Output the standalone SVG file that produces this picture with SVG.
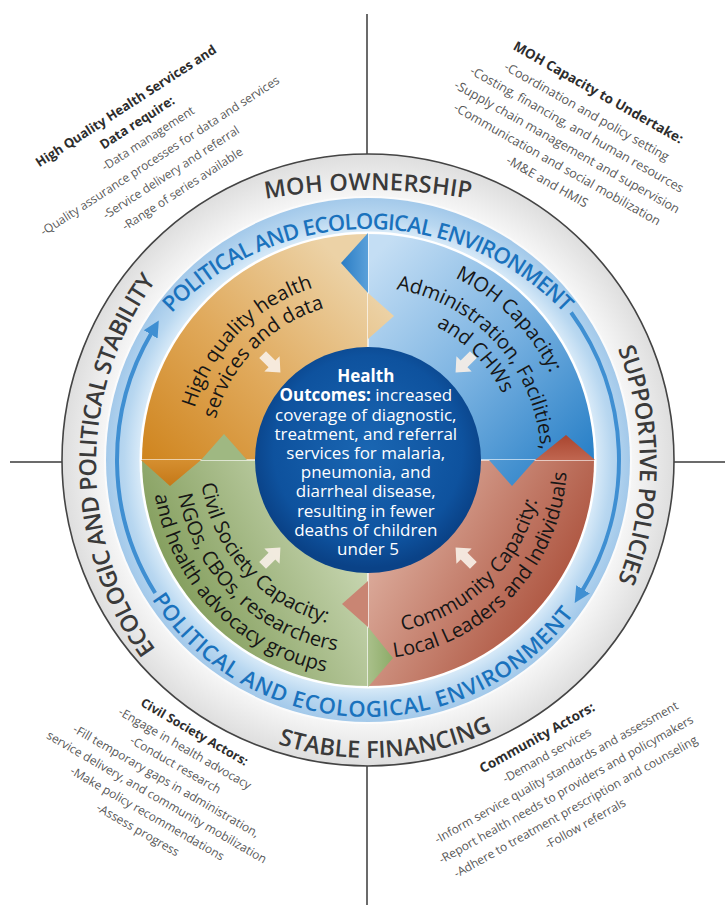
<svg xmlns="http://www.w3.org/2000/svg" width="725" height="905" viewBox="0 0 725 905">
<style>
text{font-family:"Open Sans","Noto Sans","DejaVu Sans",sans-serif}
.ring{font-weight:600;font-size:23.5px;fill:#3a3a3a}
.band{font-weight:600;font-size:22px;fill:#1a72bd}
.quad{font-size:20px;fill:#161616}
.ctr{font-size:17px;fill:#ffffff}
.b{font-weight:700}
.blk{font-size:12px;fill:#585858}
.t{font-weight:700;fill:#2d2d2d}
.xline{stroke:#3a3a3a;stroke-width:1.5;fill:none}
.sep{stroke:#ffffff;stroke-width:1.6;fill:none;opacity:0.8}
.warrow{fill:#f7efe6;opacity:0.92}
.barc{fill:none;stroke:#3f8fd2;stroke-width:4}
</style>
<defs>
<radialGradient id="grayG" gradientUnits="userSpaceOnUse" cx="368" cy="460" r="306">
<stop offset="0.86" stop-color="#f6f6f6"/><stop offset="1" stop-color="#dedede"/></radialGradient>
<radialGradient id="bandG" gradientUnits="userSpaceOnUse" cx="368" cy="460" r="262">
<stop offset="0.87" stop-color="#d8eaf8"/><stop offset="0.93" stop-color="#b8d7f0"/><stop offset="1" stop-color="#a3c9ea"/></radialGradient>
<linearGradient id="orG" gradientUnits="userSpaceOnUse" x1="150" y1="470" x2="350" y2="270">
<stop offset="0" stop-color="#cf841d"/><stop offset="0.5" stop-color="#e0a95b"/><stop offset="1" stop-color="#ecd2a6"/></linearGradient>
<linearGradient id="blG" gradientUnits="userSpaceOnUse" x1="380" y1="250" x2="590" y2="450">
<stop offset="0" stop-color="#c4def4"/><stop offset="0.5" stop-color="#7db4e2"/><stop offset="1" stop-color="#2c82c8"/></linearGradient>
<linearGradient id="rdG" gradientUnits="userSpaceOnUse" x1="390" y1="530" x2="585" y2="640">
<stop offset="0" stop-color="#dbaa9a"/><stop offset="1" stop-color="#a3412b"/></linearGradient>
<linearGradient id="grG" gradientUnits="userSpaceOnUse" x1="340" y1="500" x2="150" y2="600">
<stop offset="0" stop-color="#cad8b4"/><stop offset="1" stop-color="#7a9651"/></linearGradient>
<linearGradient id="tabB" gradientUnits="userSpaceOnUse" x1="341" y1="263" x2="368" y2="263">
<stop offset="0" stop-color="#2b7dc4"/><stop offset="1" stop-color="#5aa0da"/></linearGradient>
<linearGradient id="tabR" gradientUnits="userSpaceOnUse" x1="566" y1="435" x2="566" y2="460">
<stop offset="0" stop-color="#a9452f"/><stop offset="1" stop-color="#c06650"/></linearGradient>
<linearGradient id="tabG" gradientUnits="userSpaceOnUse" x1="393" y1="658" x2="368" y2="658">
<stop offset="0" stop-color="#8dab68"/><stop offset="1" stop-color="#a9c08a"/></linearGradient>
<linearGradient id="tabO" gradientUnits="userSpaceOnUse" x1="170" y1="486" x2="170" y2="460">
<stop offset="0" stop-color="#c57818"/><stop offset="1" stop-color="#d58f30"/></linearGradient>
<radialGradient id="ctrG" gradientUnits="userSpaceOnUse" cx="368" cy="450" r="118">
<stop offset="0" stop-color="#1a66b2"/><stop offset="0.8" stop-color="#0e529e"/><stop offset="1" stop-color="#0a4287"/></radialGradient>
<path id="wa" d="M-10,-4 L1,-4 L1,-9 L11,0 L1,9 L1,4 L-10,4 Z"/>
<marker id="bh" markerUnits="userSpaceOnUse" markerWidth="18" markerHeight="18" refX="2" refY="9" orient="auto">
<path d="M0,1 L16,9 L0,17 Z" fill="#3f8fd2"/></marker>
<path id="tpTop" d="M133.3,364.5 A271,271 0 0 1 602.7,364.5"/>
<path id="tpBot" d="M141.1,580.7 A257,257 0 0 0 585.9,596.2"/>
<path id="tpMOH" d="M162.8,226.2 A600,600 0 0 1 573.2,226.2"/>
<path id="tpStable" d="M191,699.7 A298,298 0 0 0 573.3,676"/>
<path id="tpEco" d="M188,687 A314,314 0 0 1 188,243"/>
<path id="tpSupp" d="M548,243 A314,314 0 0 1 548,687"/>
<path id="tpO1" d="M193.6,508.4 A181,181 0 0 1 413.3,284.8"/>
<path id="tpO2" d="M215.8,502.2 A158,158 0 0 1 407.6,307"/>
<path id="tpB1" d="M315.7,264.9 A202,202 0 0 1 563.1,512.3"/>
<path id="tpB2" d="M332,290.8 A173,173 0 0 1 532.5,513.5"/>
<path id="tpB3" d="M330.4,314.8 A150,150 0 0 1 512.5,500.1"/>
<path id="tpR1" d="M320,627.3 A174,174 0 0 0 536.8,417.9"/>
<path id="tpR2" d="M323.2,653.9 A199,199 0 0 0 558.3,401.8"/>
<path id="tpG1" d="M208.2,408.1 A168,168 0 0 0 402.9,624.3"/>
<path id="tpG2" d="M181.2,411.7 A193,193 0 0 0 419.6,646"/>
<path id="tpG3" d="M160.4,400.5 A216,216 0 0 0 420.3,669.6"/>
</defs>
<rect width="725" height="905" fill="#ffffff"/>

<g id="axes">
<line class="xline" x1="367" y1="14" x2="367" y2="154"/>
<line class="xline" x1="367" y1="766" x2="367" y2="905"/>
<line class="xline" x1="10" y1="462" x2="62" y2="462"/>
<line class="xline" x1="674" y1="462" x2="725" y2="462"/>
</g>

<g id="outer-ring">
<circle cx="368" cy="460" r="306" fill="url(#grayG)" stroke="#444444" stroke-width="1.6"/>
<circle cx="368" cy="460" r="264" fill="#fbfbfb"/>
<text class="ring"><textPath href="#tpMOH" startOffset="50%" text-anchor="middle" textLength="206" lengthAdjust="spacing">MOH OWNERSHIP</textPath></text>
<text class="ring"><textPath href="#tpSupp" startOffset="50%" text-anchor="middle" textLength="238" lengthAdjust="spacing">SUPPORTIVE POLICIES</textPath></text>
<text class="ring"><textPath href="#tpStable" startOffset="50%" text-anchor="middle" textLength="220" lengthAdjust="spacing">STABLE FINANCING</textPath></text>
<text class="ring"><textPath href="#tpEco" startOffset="50%" text-anchor="middle" textLength="394" lengthAdjust="spacing">ECOLOGIC AND POLITICAL STABILITY</textPath></text>
</g>

<g id="environment-band">
<circle cx="368" cy="460" r="262" fill="url(#bandG)"/>
<circle cx="368" cy="460" r="228.5" fill="#ffffff"/>
<text class="band"><textPath href="#tpTop" startOffset="50%" text-anchor="middle" textLength="439" lengthAdjust="spacing">POLITICAL AND ECOLOGICAL ENVIRONMENT</textPath></text>
<text class="band"><textPath href="#tpBot" startOffset="50%" text-anchor="middle" textLength="495" lengthAdjust="spacing">POLITICAL AND ECOLOGICAL ENVIRONMENT</textPath></text>
</g>

<g id="q-health-services">
<path d="M368,460 L142,460 A226,226 0 0 1 368,234 Z" fill="url(#orG)"/>
</g>
<g id="q-moh-capacity">
<path d="M368,460 L368,234 A226,226 0 0 1 594,460 Z" fill="url(#blG)"/>
</g>
<g id="q-community">
<path d="M368,460 L594,460 A226,226 0 0 1 368,686 Z" fill="url(#rdG)"/>
</g>
<g id="q-civil-society">
<path d="M368,460 L368,686 A226,226 0 0 1 142,460 Z" fill="url(#grG)"/>
</g>
<g id="separators">
<line class="sep" x1="368" y1="234" x2="368" y2="347"/>
<line class="sep" x1="481" y1="460" x2="594" y2="460"/>
<line class="sep" x1="368" y1="573" x2="368" y2="686"/>
<line class="sep" x1="142" y1="460" x2="255" y2="460"/>
</g>
<g id="tabs">
<polygon points="368,293 368,233 341,263" fill="url(#tabB)"/>
<polygon points="368,339 368,293 394,316" fill="url(#orG)"/>
<polygon points="535,460 595,460 566,435" fill="url(#tabR)"/>
<polygon points="489,460 535,460 512,486" fill="url(#blG)"/>
<polygon points="368,627 368,687 393,658" fill="url(#tabG)"/>
<polygon points="368,581 368,627 342,604" fill="#c98573"/>
<polygon points="201,460 141,460 170,486" fill="url(#tabO)"/>
<polygon points="247,460 201,460 224,434" fill="#9fb882"/>
</g>

<g id="q-labels">
<text class="quad"><textPath href="#tpO1" startOffset="50%" text-anchor="middle">High quality health</textPath></text>
<text class="quad"><textPath href="#tpO2" startOffset="50%" text-anchor="middle">services and data</textPath></text>
<text class="quad"><textPath href="#tpB1" startOffset="50%" text-anchor="middle">MOH Capacity:</textPath></text>
<text class="quad"><textPath href="#tpB2" startOffset="50%" text-anchor="middle">Administration, Facilities,</textPath></text>
<text class="quad"><textPath href="#tpB3" startOffset="50%" text-anchor="middle">and CHWs</textPath></text>
<text class="quad"><textPath href="#tpR1" startOffset="50%" text-anchor="middle">Community Capacity:</textPath></text>
<text class="quad"><textPath href="#tpR2" startOffset="50%" text-anchor="middle">Local Leaders and Individuals</textPath></text>
<text class="quad"><textPath href="#tpG1" startOffset="50%" text-anchor="middle">Civil Society Capacity:</textPath></text>
<text class="quad"><textPath href="#tpG2" startOffset="50%" text-anchor="middle">NGOs, CBOs, researchers</textPath></text>
<text class="quad"><textPath href="#tpG3" startOffset="50%" text-anchor="middle">and health advocacy groups</textPath></text>
</g>

<g id="connectors">
<path class="barc" d="M155.2,593 A251,251 0 0 1 151.7,332.6" marker-end="url(#bh)"/>
<path class="barc" d="M571.1,312.5 A251,251 0 0 1 582,591.1" marker-end="url(#bh)"/>
<use href="#wa" class="warrow" transform="translate(271.1,363.1) rotate(45) scale(1.2)"/>
<use href="#wa" class="warrow" transform="translate(464.9,363.1) rotate(135) scale(1.2)"/>
<use href="#wa" class="warrow" transform="translate(464.9,556.9) rotate(225) scale(1.2)"/>
<use href="#wa" class="warrow" transform="translate(271.1,556.9) rotate(315) scale(1.2)"/>
</g>

<g id="health-outcomes">
<circle cx="368" cy="460" r="113" fill="url(#ctrG)"/>
<text class="ctr" text-anchor="middle">
<tspan x="368" y="382.2" class="b">Health</tspan>
<tspan x="368" y="401.4"><tspan class="b">Outcomes:</tspan> increased</tspan>
<tspan x="368" y="420.6">coverage of diagnostic,</tspan>
<tspan x="368" y="439.8">treatment, and referral</tspan>
<tspan x="368" y="459">services for malaria,</tspan>
<tspan x="368" y="478.2">pneumonia, and</tspan>
<tspan x="368" y="497.4">diarrheal disease,</tspan>
<tspan x="368" y="516.6">resulting in fewer</tspan>
<tspan x="368" y="535.8">deaths of children</tspan>
<tspan x="368" y="555">under 5</tspan>
</text>
</g>

<g id="note-health-services" class="blk" text-anchor="middle">
<text class="t" style="font-size:13px" transform="translate(128.3,109.8) rotate(-33)">High Quality Health Services and</text>
<text class="t" style="font-size:13px" transform="translate(139.5,126.3) rotate(-33)">Data require:</text>
<text transform="translate(150.2,142) rotate(-33)">-Data management</text>
<text transform="translate(162.1,159.3) rotate(-33)">-Quality assurance processes for data and services</text>
<text transform="translate(173.3,175.9) rotate(-33)">-Service delivery and referral</text>
<text transform="translate(184.6,192.4) rotate(-33)">-Range of series available</text>
</g>

<g id="note-moh" class="blk" text-anchor="middle" style="font-size:12.6px">
<text class="t" style="font-size:13.5px" transform="translate(596,96.5) rotate(29.5)">MOH Capacity to Undertake:</text>
<text transform="translate(584.6,115.3) rotate(29.5)">-Coordination and policy setting</text>
<text transform="translate(574.8,133) rotate(29.5)">-Costing, financing, and human resources</text>
<text transform="translate(564.9,150.6) rotate(29.5)">-Supply chain management and supervision</text>
<text transform="translate(555.1,168) rotate(29.5)">-Communication and social mobilization</text>
<text transform="translate(545.2,185.4) rotate(29.5)">-M&amp;E and HMIS</text>
</g>

<g id="note-civil-society" class="blk" text-anchor="middle">
<text class="t" style="font-size:12.5px" transform="translate(192.3,735.7) rotate(30)">Civil Society Actors:</text>
<text transform="translate(182.9,752) rotate(30)">-Engage in health advocacy</text>
<text transform="translate(173.5,768.3) rotate(30)">-Conduct research</text>
<text transform="translate(164.1,784.6) rotate(30)">-Fill temporary gaps in administration,</text>
<text transform="translate(154.7,800.8) rotate(30)">service delivery, and community mobilization</text>
<text transform="translate(145.3,817.1) rotate(30)">-Make policy recommendations</text>
<text transform="translate(135.9,833.4) rotate(30)">-Assess progress</text>
</g>

<g id="note-community" class="blk" text-anchor="middle">
<text class="t" style="font-size:13.5px" transform="translate(539.3,741.8) rotate(-29.3)">Community Actors:</text>
<text transform="translate(548.9,758.9) rotate(-29.3)">-Demand services</text>
<text transform="translate(558.4,776) rotate(-29.3)">-Inform service quality standards and assessment</text>
<text transform="translate(568,793.1) rotate(-29.3)">-Report health needs to providers and policymakers</text>
<text transform="translate(577.6,810.2) rotate(-29.3)">-Adhere to treatment prescription and counseling</text>
<text transform="translate(587.2,827.3) rotate(-29.3)">-Follow referrals</text>
</g>
</svg>
